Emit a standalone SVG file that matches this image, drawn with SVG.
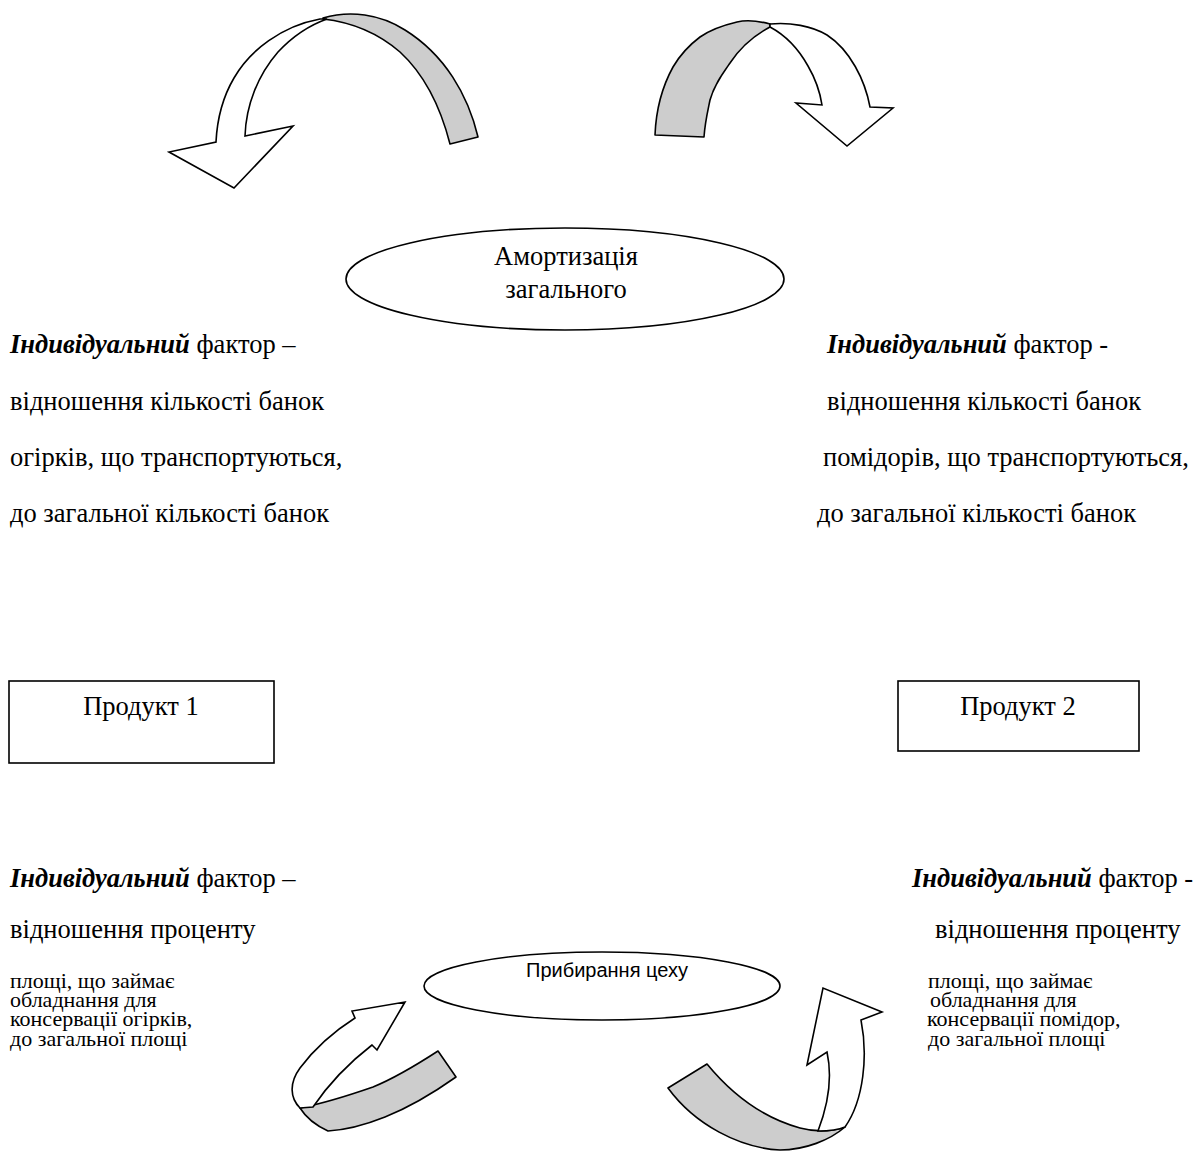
<svg xmlns="http://www.w3.org/2000/svg" width="1198" height="1153" viewBox="0 0 1198 1153">
<style>
.t{font-family:"Liberation Serif","Times New Roman",serif;font-size:26.5px;fill:#000}
.s{font-family:"Liberation Serif","Times New Roman",serif;font-size:22px;fill:#000}
.bi{font-weight:bold;font-style:italic}
.sh{fill:#fff;stroke:#000;stroke-width:1.6}
.g{fill:#cdcdcd;stroke:#000;stroke-width:1.6;stroke-linejoin:round}
.w{fill:#fff;stroke:#000;stroke-width:1.6;stroke-linejoin:miter}
.c{font-family:"Liberation Sans",Arial,sans-serif;font-size:20px;fill:#000}
</style>
<rect width="1198" height="1153" fill="#fff"/>
<g id="connectors">
  <g id="arrow-top-left">
    <path class="g" d="M323,18 C350,10 380,14 405,30 C445,55 468,95 478,137 L450,144 C440,105 425,75 400,52 C378,33 350,22 323,19 Z"/>
    <path class="w" d="M320,19 C282,26 250,50 234,78 C221,100 217,122 216,142 L169,152 L234,188 L293,126 L245,136 C246,105 258,75 278,52 C293,36 310,25 327,19 Z"/>
  </g>
  <g id="arrow-top-right">
    <path class="g" d="M770,24 C755,20 745,20 737,22 C720,26 710,30 700,37 C688,46 680,55 673,67 C662,87 656,110 655,135 L704,137 C705,122 708,110 710,100 C714,85 723,73 730,63 C740,48 755,35 770,27 Z"/>
    <path class="w" d="M770,24 C790,22 812,26 827,35 C850,50 865,80 870,107 L893,108 L847,146 L796,103 L822,105 C820,92 815,78 808,66 C798,48 785,35 770,27 Z"/>
  </g>
  <g id="arrow-bottom-left">
    <path class="g" d="M300,1108 C325,1103 350,1095 373,1087 C395,1078 418,1064 438,1051 L456,1077 C432,1094 410,1107 385,1117 C365,1125 345,1130 328,1131 C315,1125 305,1116 300,1108 Z"/>
    <path class="w" d="M300,1108 C290,1098 289,1083 300,1068 C315,1048 333,1032 355,1018 L352,1011 L405,1002 L377,1050 L372,1045 C350,1062 330,1082 313,1107 Z"/>
  </g>
  <g id="arrow-bottom-right">
    <path class="g" d="M707,1064 C730,1092 760,1117 800,1128 C815,1132 830,1132 845,1127 C830,1140 805,1150 780,1150 C740,1148 695,1125 668,1088 Z"/>
    <path class="w" d="M818,1131 C830,1100 832,1075 827,1052 L807,1065 L823,988 L882,1012 L861,1020 C868,1055 864,1100 845,1127 C838,1130 828,1131 818,1131 Z"/>
  </g>
</g>
<g id="node-amort">
  <ellipse class="sh" cx="565" cy="279" rx="219" ry="51"/>
  <text class="t" x="566" y="265" text-anchor="middle">Амортизація</text>
  <text class="t" x="566" y="298" text-anchor="middle">загального</text>
</g>
<g id="node-clean">
  <ellipse class="sh" cx="602" cy="986" rx="178" ry="34"/>
  <text class="c" x="607" y="977" text-anchor="middle">Прибирання цеху</text>
</g>
<g id="node-p1">
  <rect class="sh" x="9" y="681" width="265" height="82"/>
  <text class="t" x="141" y="715" text-anchor="middle">Продукт 1</text>
</g>
<g id="node-p2">
  <rect class="sh" x="898" y="681" width="241" height="70"/>
  <text class="t" x="1018" y="715" text-anchor="middle">Продукт 2</text>
</g>
<g id="text-top-left">
  <text class="t" x="10" y="353"><tspan class="bi">Індивідуальний</tspan> фактор –</text>
  <text class="t" x="10" y="410">відношення кількості банок</text>
  <text class="t" x="10" y="466">огірків, що транспортуються,</text>
  <text class="t" x="10" y="522">до загальної кількості банок</text>
</g>
<g id="text-top-right">
  <text class="t" x="827" y="353"><tspan class="bi">Індивідуальний</tspan> фактор -</text>
  <text class="t" x="827" y="410">відношення кількості банок</text>
  <text class="t" x="823" y="466">помідорів, що транспортуються,</text>
  <text class="t" x="817" y="522">до загальної кількості банок</text>
</g>
<g id="text-bottom-left">
  <text class="t" x="10" y="887"><tspan class="bi">Індивідуальний</tspan> фактор –</text>
  <text class="t" x="10" y="938">відношення проценту</text>
  <text class="s" x="10" y="988">площі, що займає</text>
  <text class="s" x="10" y="1007">обладнання для</text>
  <text class="s" x="10" y="1026">консервації огірків,</text>
  <text class="s" x="10" y="1046">до загальної площі</text>
</g>
<g id="text-bottom-right">
  <text class="t" x="935" y="938">відношення проценту</text>
  <text class="t" x="912" y="887"><tspan class="bi">Індивідуальний</tspan> фактор -</text>
  <text class="s" x="928" y="988">площі, що займає</text>
  <text class="s" x="930" y="1007">обладнання для</text>
  <text class="s" x="927" y="1026">консервації помідор,</text>
  <text class="s" x="928" y="1046">до загальної площі</text>
</g>
</svg>
